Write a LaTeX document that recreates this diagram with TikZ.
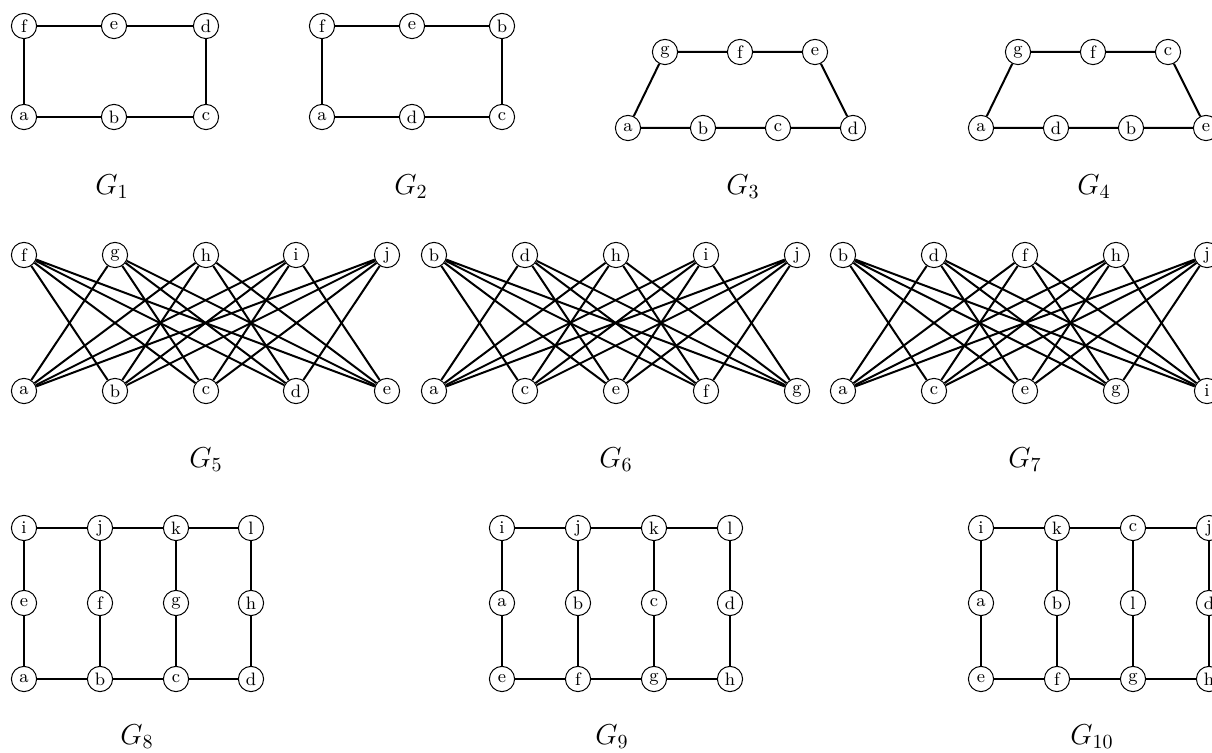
\documentclass[tikz,border=0pt]{standalone}
\begin{document}
\begin{tikzpicture}[
  x=0.5pt, y=-0.5pt,
  vert/.style={draw, circle, fill=white, line width=0.5pt, minimum size=12.6pt, inner sep=0pt, font=\small},
  link/.style={line width=1pt},
  title/.style={font=\Large}
]
\useasboundingbox (0,0) rectangle (1212,753);
% G1
\node[vert] (f1) at (24,26) {f};
\node[vert] (e1) at (114,26) {e};
\node[vert] (d1) at (206,26) {d};
\node[vert] (a1) at (24,117) {a};
\node[vert] (b1) at (114,117) {b};
\node[vert] (c1) at (206,117) {c};
\draw[link] (f1) -- (e1) -- (d1) -- (c1) -- (b1) -- (a1) -- (f1);
\node[title] (t1) at (112,187) {$G_1$};
% G2
\node[vert] (f2) at (322,26) {f};
\node[vert] (e2) at (412,26) {e};
\node[vert] (b2) at (502,26) {b};
\node[vert] (a2) at (322,117) {a};
\node[vert] (d2) at (412,117) {d};
\node[vert] (c2) at (502,117) {c};
\draw[link] (f2) -- (e2) -- (b2) -- (c2) -- (d2) -- (a2) -- (f2);
\node[title] (t2) at (411,187) {$G_2$};
% G3
\node[vert] (g3) at (665,52) {g};
\node[vert] (f3) at (740,52) {f};
\node[vert] (e3) at (815,52) {e};
\node[vert] (a3) at (628,128) {a};
\node[vert] (b3) at (703,128) {b};
\node[vert] (c3) at (778,128) {c};
\node[vert] (d3) at (853,128) {d};
\draw[link] (g3) -- (f3) -- (e3) -- (d3) -- (c3) -- (b3) -- (a3) -- (g3);
\node[title] (t3) at (743,187) {$G_3$};
% G4
\node[vert] (g4) at (1018,52) {g};
\node[vert] (f4) at (1093,52) {f};
\node[vert] (c4) at (1168,52) {c};
\node[vert] (a4) at (981,128) {a};
\node[vert] (d4) at (1056,128) {d};
\node[vert] (b4) at (1131,128) {b};
\node[vert] (e4) at (1206,128) {e};
\draw[link] (g4) -- (f4) -- (c4) -- (e4) -- (b4) -- (d4) -- (a4) -- (g4);
\node[title] (t4) at (1094,187) {$G_4$};
% G5
\node[vert] (f5) at (24,255) {f};
\node[vert] (g5) at (115,255) {g};
\node[vert] (h5) at (206,255) {h};
\node[vert] (i5) at (296,255) {i};
\node[vert] (j5) at (387,255) {j};
\node[vert] (a5) at (24,391) {a};
\node[vert] (b5) at (115,391) {b};
\node[vert] (c5) at (206,391) {c};
\node[vert] (d5) at (296,391) {d};
\node[vert] (e5) at (387,391) {e};
\draw[link] (f5) -- (b5) (f5) -- (c5) (f5) -- (d5) (f5) -- (e5);
\draw[link] (g5) -- (a5) (g5) -- (c5) (g5) -- (d5) (g5) -- (e5);
\draw[link] (h5) -- (a5) (h5) -- (b5) (h5) -- (d5) (h5) -- (e5);
\draw[link] (i5) -- (a5) (i5) -- (b5) (i5) -- (c5) (i5) -- (e5);
\draw[link] (j5) -- (a5) (j5) -- (b5) (j5) -- (c5) (j5) -- (d5);
\node[title] (t5) at (206,460) {$G_5$};
% G6
\node[vert] (b6) at (434,255) {b};
\node[vert] (d6) at (525,255) {d};
\node[vert] (h6) at (616,255) {h};
\node[vert] (i6) at (706,255) {i};
\node[vert] (j6) at (797,255) {j};
\node[vert] (a6) at (434,391) {a};
\node[vert] (c6) at (525,391) {c};
\node[vert] (e6) at (616,391) {e};
\node[vert] (f6) at (706,391) {f};
\node[vert] (g6) at (797,391) {g};
\draw[link] (b6) -- (c6) (b6) -- (e6) (b6) -- (f6) (b6) -- (g6);
\draw[link] (d6) -- (a6) (d6) -- (e6) (d6) -- (f6) (d6) -- (g6);
\draw[link] (h6) -- (a6) (h6) -- (c6) (h6) -- (f6) (h6) -- (g6);
\draw[link] (i6) -- (a6) (i6) -- (c6) (i6) -- (e6) (i6) -- (g6);
\draw[link] (j6) -- (a6) (j6) -- (c6) (j6) -- (e6) (j6) -- (f6);
\node[title] (t6) at (616,460) {$G_6$};
% G7
\node[vert] (b7) at (843,255) {b};
\node[vert] (d7) at (934,255) {d};
\node[vert] (f7) at (1025,255) {f};
\node[vert] (h7) at (1116,255) {h};
\node[vert] (j7) at (1207,255) {j};
\node[vert] (a7) at (843,391) {a};
\node[vert] (c7) at (934,391) {c};
\node[vert] (e7) at (1025,391) {e};
\node[vert] (g7) at (1116,391) {g};
\node[vert] (i7) at (1207,391) {i};
\draw[link] (b7) -- (c7) (b7) -- (e7) (b7) -- (g7) (b7) -- (i7);
\draw[link] (d7) -- (a7) (d7) -- (e7) (d7) -- (g7) (d7) -- (i7);
\draw[link] (f7) -- (a7) (f7) -- (c7) (f7) -- (g7) (f7) -- (i7);
\draw[link] (h7) -- (a7) (h7) -- (c7) (h7) -- (e7) (h7) -- (i7);
\draw[link] (j7) -- (a7) (j7) -- (c7) (j7) -- (e7) (j7) -- (g7);
\node[title] (t7) at (1025,460) {$G_7$};
% G8
\node[vert] (i8) at (24,528) {i};
\node[vert] (j8) at (100,528) {j};
\node[vert] (k8) at (176,528) {k};
\node[vert] (l8) at (251,528) {l};
\node[vert] (e8) at (24,603) {e};
\node[vert] (f8) at (100,603) {f};
\node[vert] (g8) at (176,603) {g};
\node[vert] (h8) at (251,603) {h};
\node[vert] (a8) at (24,679) {a};
\node[vert] (b8) at (100,679) {b};
\node[vert] (c8) at (176,679) {c};
\node[vert] (d8) at (251,679) {d};
\draw[link] (i8) -- (j8) -- (k8) -- (l8);
\draw[link] (a8) -- (b8) -- (c8) -- (d8);
\draw[link] (i8) -- (e8) -- (a8);
\draw[link] (j8) -- (f8) -- (b8);
\draw[link] (k8) -- (g8) -- (c8);
\draw[link] (l8) -- (h8) -- (d8);
\node[title] (t8) at (137,737) {$G_8$};
% G9
\node[vert] (i9) at (502,528) {i};
\node[vert] (j9) at (578,528) {j};
\node[vert] (k9) at (654,528) {k};
\node[vert] (l9) at (730,528) {l};
\node[vert] (a9) at (502,603) {a};
\node[vert] (b9) at (578,603) {b};
\node[vert] (c9) at (654,603) {c};
\node[vert] (d9) at (730,603) {d};
\node[vert] (e9) at (502,679) {e};
\node[vert] (f9) at (578,679) {f};
\node[vert] (g9) at (654,679) {g};
\node[vert] (h9) at (730,679) {h};
\draw[link] (i9) -- (j9) -- (k9) -- (l9);
\draw[link] (e9) -- (f9) -- (g9) -- (h9);
\draw[link] (i9) -- (a9) -- (e9);
\draw[link] (j9) -- (b9) -- (f9);
\draw[link] (k9) -- (c9) -- (g9);
\draw[link] (l9) -- (d9) -- (h9);
\node[title] (t9) at (612,737) {$G_9$};
% G10
\node[vert] (i10) at (981,528) {i};
\node[vert] (k10) at (1057,528) {k};
\node[vert] (c10) at (1133,528) {c};
\node[vert] (j10) at (1209,528) {j};
\node[vert] (a10) at (981,603) {a};
\node[vert] (b10) at (1057,603) {b};
\node[vert] (l10) at (1133,603) {l};
\node[vert] (d10) at (1209,603) {d};
\node[vert] (e10) at (981,679) {e};
\node[vert] (f10) at (1057,679) {f};
\node[vert] (g10) at (1133,679) {g};
\node[vert] (h10) at (1209,679) {h};
\draw[link] (i10) -- (k10) -- (c10) -- (j10);
\draw[link] (e10) -- (f10) -- (g10) -- (h10);
\draw[link] (i10) -- (a10) -- (e10);
\draw[link] (k10) -- (b10) -- (f10);
\draw[link] (c10) -- (l10) -- (g10);
\draw[link] (j10) -- (d10) -- (h10);
\node[title] (t10) at (1092,737) {$G_{10}$};
\end{tikzpicture}
\end{document}
